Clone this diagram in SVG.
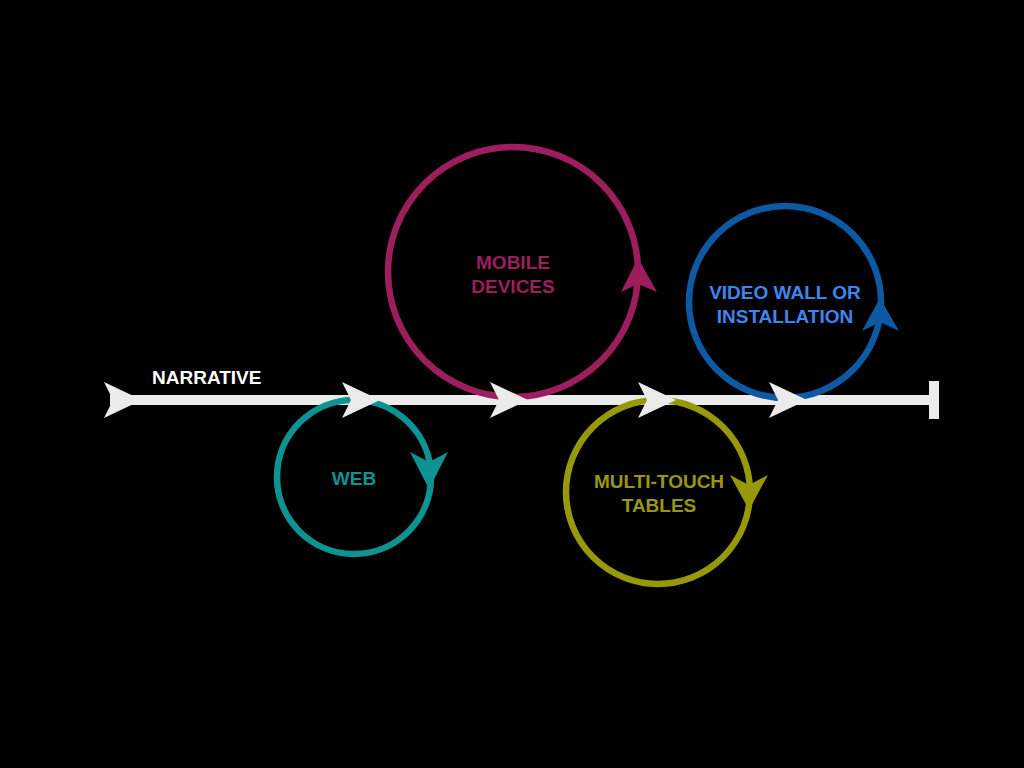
<svg xmlns="http://www.w3.org/2000/svg" width="1024" height="768" viewBox="0 0 1024 768">
<style>
.ring{fill:none;stroke-width:6.5}
.lbl{font-family:"Liberation Sans",Arial,sans-serif;font-weight:bold;font-size:19px;text-anchor:middle}
.wh{fill:#ebebeb}
</style>
<defs>
<polygon id="chev" points="0,-18 38,0 0,18 9,0"/>
</defs>
<rect width="1024" height="768" fill="#000"/>
<g id="narrative-line">
<rect class="wh" x="110" y="395" width="821" height="10"/>
<rect class="wh" x="929" y="381" width="10" height="38"/>
</g>
<g id="web">
<circle class="ring" cx="354" cy="477" r="77" stroke="#0e9292"/>
<polygon points="429,489 410,452 429,462 448,452" fill="#0e9292"/>
<text class="lbl" x="354" y="485" fill="#0e9292">WEB</text>
</g>
<g id="mobile">
<circle class="ring" cx="513" cy="272" r="125" stroke="#9d1e5d"/>
<polygon points="638,258 621,292 638,284 657,292" fill="#9d1e5d"/>
<text class="lbl" x="513" y="269" fill="#9d1e5d">MOBILE</text>
<text class="lbl" x="513" y="293" fill="#9d1e5d">DEVICES</text>
</g>
<g id="multitouch">
<circle class="ring" cx="658" cy="492" r="92" stroke="#98980b"/>
<polygon points="749,510 730,475 749,485 768,475" fill="#98980b"/>
<text class="lbl" x="659" y="488" fill="#98980b">MULTI-TOUCH</text>
<text class="lbl" x="659" y="512" fill="#98980b">TABLES</text>
</g>
<g id="videowall">
<circle class="ring" cx="785" cy="302" r="96" stroke="#0b5aa3"/>
<polygon points="880,298 862,331 880,322 899,331" fill="#0b5aa3"/>
<text class="lbl" x="785" y="299" fill="#3d86f0">VIDEO WALL OR</text>
<text class="lbl" x="785" y="323" fill="#3d86f0">INSTALLATION</text>
</g>
<g id="connectors">
<use href="#chev" class="wh" x="104" y="400"/>
<use href="#chev" class="wh" x="342" y="400"/>
<use href="#chev" class="wh" x="490" y="400"/>
<use href="#chev" class="wh" x="638" y="400"/>
<use href="#chev" class="wh" x="769" y="400"/>
</g>
<text x="152" y="384" font-family="Liberation Sans, Arial, sans-serif" font-weight="bold" font-size="19" fill="#ffffff">NARRATIVE</text>
</svg>
